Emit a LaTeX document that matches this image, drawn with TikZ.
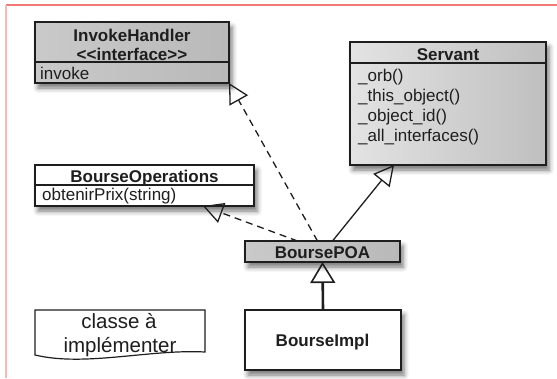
\documentclass[tikz,border=0pt]{standalone}
\usepackage{fontspec}
\setmainfont{Liberation Sans}
\usetikzlibrary{arrows.meta,shadows.blur}
\definecolor{frametop}{RGB}{240,120,120}
\definecolor{frameleft}{RGB}{250,185,185}
\definecolor{ink}{RGB}{30,30,30}
\begin{document}
\begin{tikzpicture}[x=1pt,y=-1pt,
  umlbox/.style={draw=ink, line width=1.5pt, inner sep=0pt, outer sep=0pt, rectangle},
  grayshade/.style={left color=gray!42, middle color=gray!18, right color=gray!55},
  shad/.style={blur shadow={shadow xshift=3pt, shadow yshift=-5pt, shadow blur radius=5pt, shadow opacity=55}},
  bt/.style={font=\fontsize{17}{20}\selectfont\bfseries, text=ink, inner sep=0pt, anchor=base},
  rt/.style={font=\fontsize{17}{20}\selectfont, text=ink, inner sep=0pt, anchor=base west},
  ct/.style={font=\fontsize{20.5}{24}\selectfont, text=ink, inner sep=0pt, anchor=base},
  gen/.style={-{Triangle[open, length=20pt, width=21pt, line width=1.3pt]}, line width=1.3pt, draw=ink},
  genthick/.style={-{Triangle[open, length=21pt, width=25pt, line width=1.6pt]}, line width=2.6pt, draw=ink},
  dsh/.style={dash pattern=on 7pt off 5pt},
  divider/.style={draw=ink, line width=1.5pt}
]
\useasboundingbox (0,0) rectangle (557,378);
% frame
\draw[frametop, line width=1.3pt] (6,5) -- (557,5);
\draw[frameleft, line width=1.3pt] (6,5) -- (6,378);

% InvokeHandler
\node[umlbox, grayshade, shad, minimum width=194pt, minimum height=61pt] (IH) at (132,52.5) {};
\draw[divider] (35,62) -- (229,62);
\node[bt] (IHt1) at (132,41) {InvokeHandler};
\node[bt] (IHt2) at (132,60) {<{}<interface>{}>};
\node[rt] (IHm1) at (40,79.5) {invoke};

% Servant
\node[umlbox, line width=2pt, left color=gray!22, right color=gray!50, shad, minimum width=196pt, minimum height=123pt] (S) at (448,103.5) {};
\draw[divider, line width=2.2pt] (350,63) -- (546,63);
\node[bt] (St) at (448,60) {Servant};
\node[rt] (Sm1) at (358,81.7) {\_orb()};
\node[rt] (Sm2) at (358,101.7) {\_this\_object()};
\node[rt] (Sm3) at (358,121.5) {\_object\_id()};
\node[rt] (Sm4) at (358,141.5) {\_all\_interfaces()};

% BourseOperations
\node[umlbox, line width=1.8pt, fill=white, shad, minimum width=219pt, minimum height=41pt] (BO) at (144.5,185.5) {};
\draw[divider] (35,185) -- (254,185);
\node[bt] (BOt) at (144.5,182) {BourseOperations};
\node[rt] (BOm1) at (42,200) {obtenirPrix(string)};

% BoursePOA
\node[umlbox, grayshade, shad, minimum width=155pt, minimum height=21pt] (POA) at (322.5,251.5) {};
\node[bt] (POAt) at (322.5,258) {BoursePOA};

% BourseImpl
\node[umlbox, line width=2.6pt, fill=white, shad, minimum width=156pt, minimum height=60pt] (BI) at (323,340) {};
\node[bt] (BIt) at (322.5,346) {BourseImpl};

% note
\draw[draw=ink, line width=1.2pt, fill=white] (35,310) -- (205,310) -- (205,352)
  .. controls (150,349) and (85,367) .. (35,355) -- cycle;
\node[ct] (N1) at (119,328) {classe à};
\node[ct] (N2) at (120,352) {implémenter};

% connectors
\draw[gen, dsh] ([xshift=-5pt]POA.north) -- (IH.south east);
\draw[gen, dsh] ([xshift=-25pt]POA.north) -- ([xshift=-51pt]BO.south east);
\draw[gen] ([xshift=10pt]POA.north) -- ([xshift=-54pt]S.south);
\draw[genthick] (BI.north) -- (POA.south);
\end{tikzpicture}
\end{document}
